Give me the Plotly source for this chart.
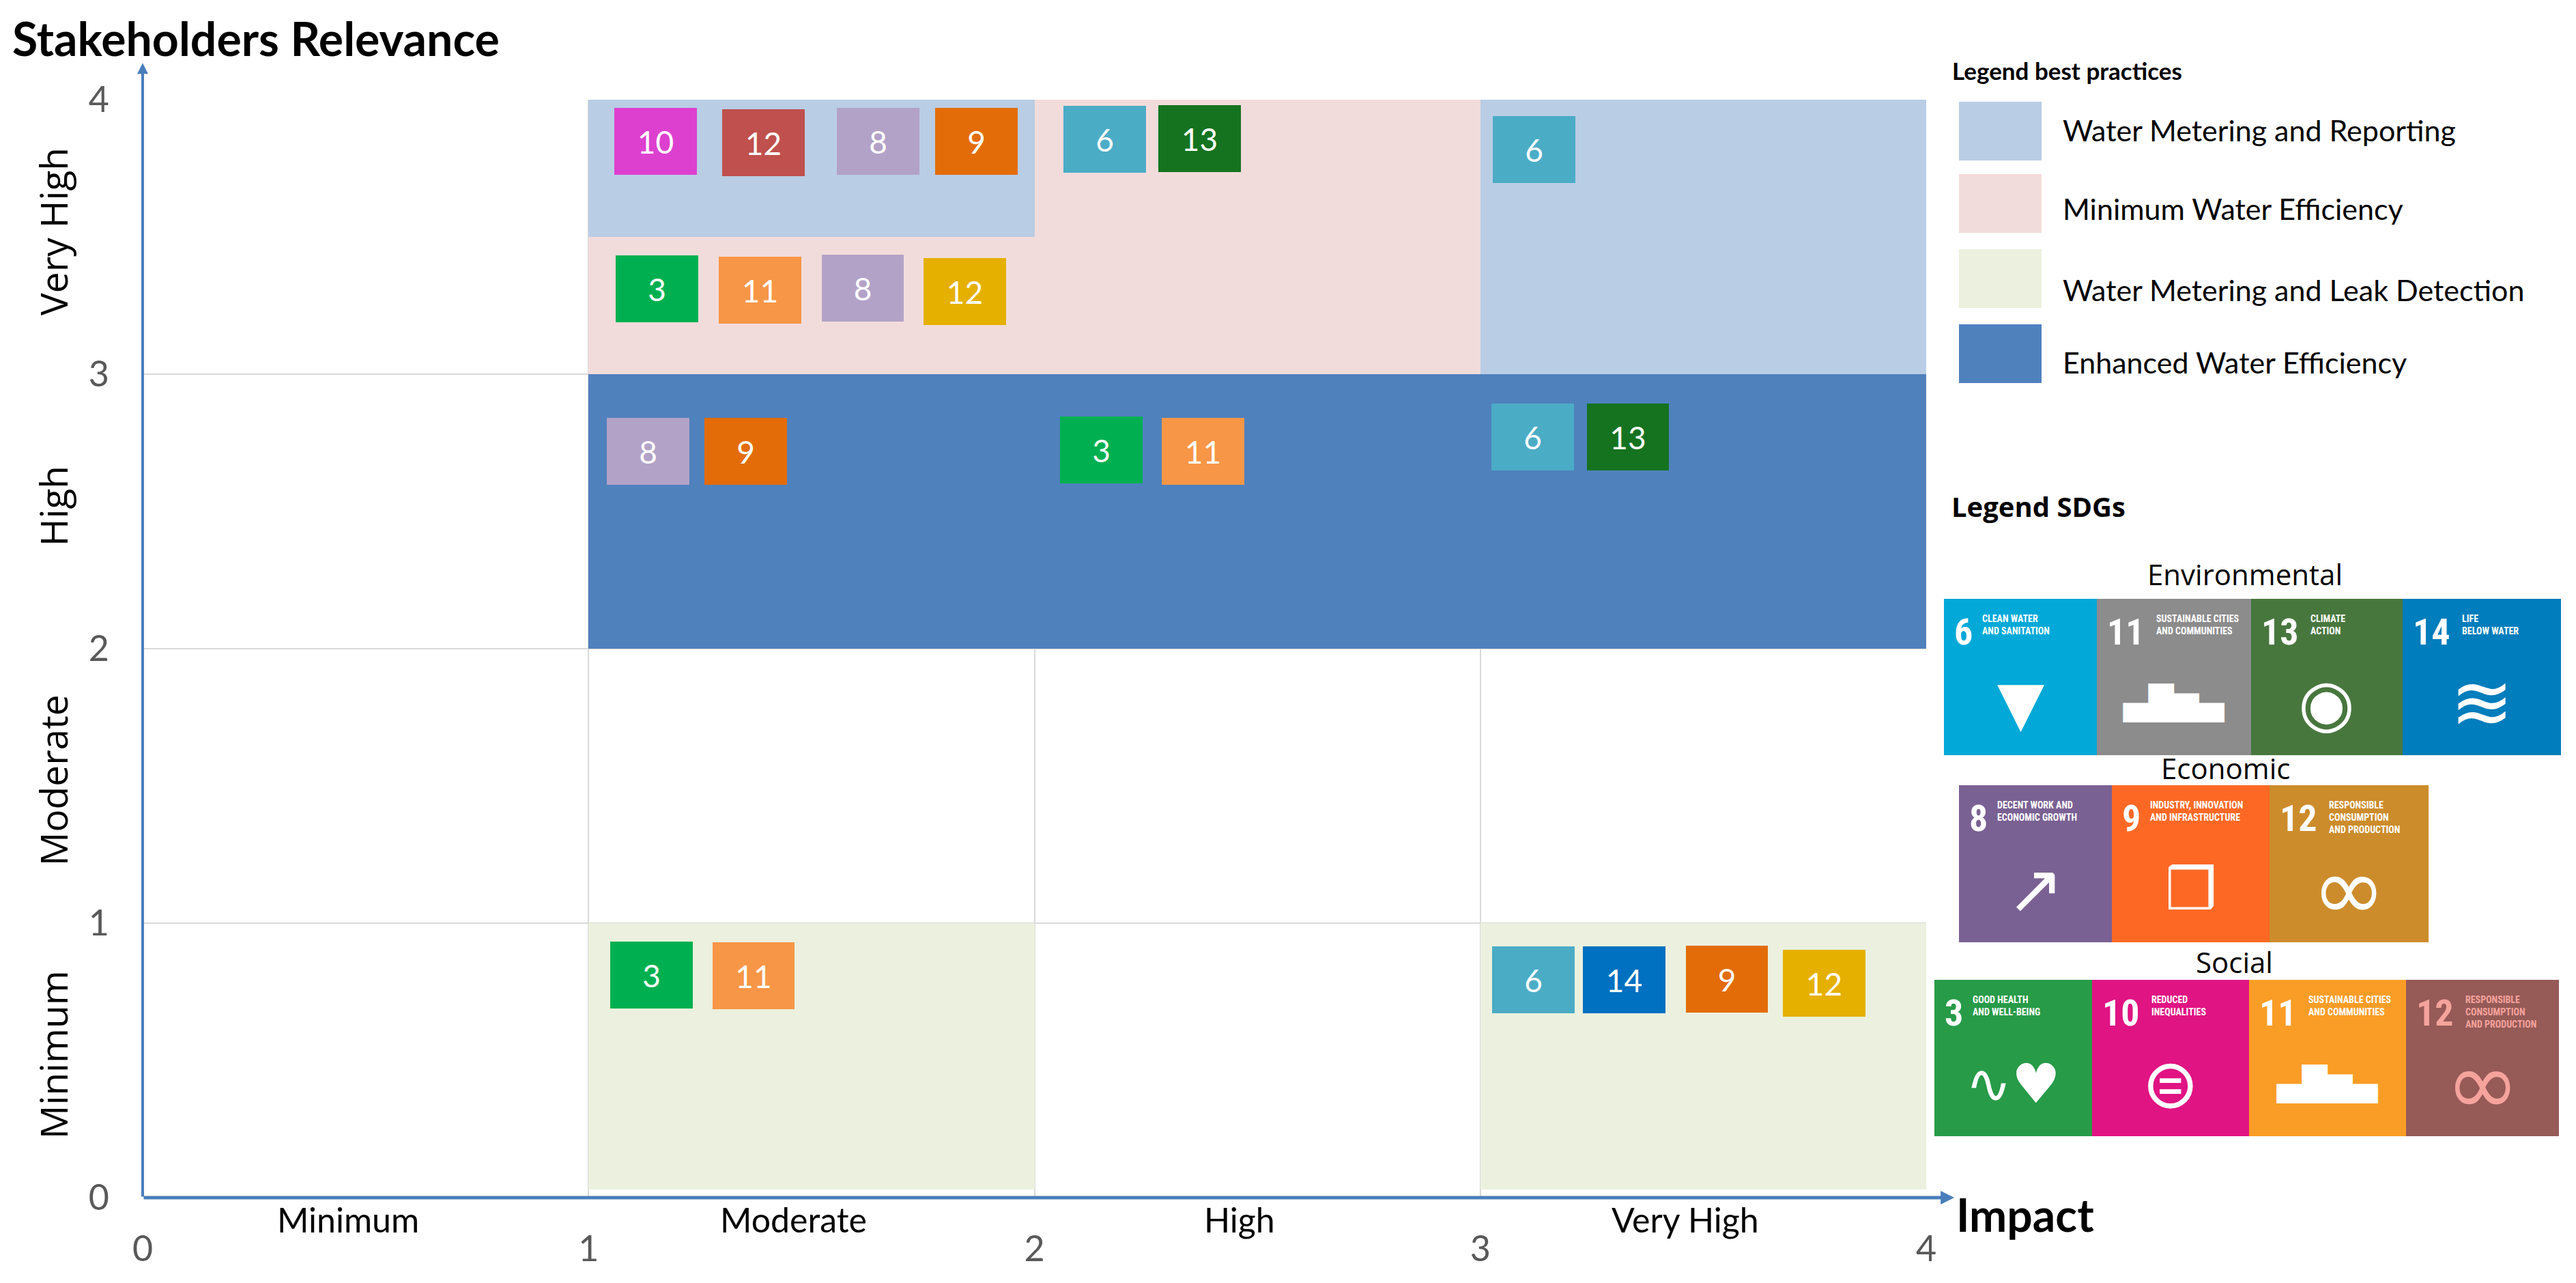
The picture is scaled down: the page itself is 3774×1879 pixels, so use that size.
import plotly.graph_objects as go

# ---------------- data ----------------
impact_levels = ["Minimum", "Moderate", "High", "Very High"]
relevance_levels = ["Minimum", "Moderate", "High", "Very High"]
axis_ticks = [0, 1, 2, 3, 4]

practices = ["Water Metering and Reporting", "Minimum Water Efficiency",
             "Water Metering and Leak Detection", "Enhanced Water Efficiency"]

# areas covered by each best practice (index into practices)
area_practice = [1, 1, 0, 0, 2, 2, 3]
area_impact_from = [1, 2, 1, 3, 1, 3, 1]
area_impact_to = [2, 3, 2, 4, 2, 4, 4]
area_rel_from = [3, 3, 3.5, 3, 0.03, 0.03, 2]
area_rel_to = [3.5, 4, 4, 4, 1, 1, 3]

# SDG boxes placed in the matrix
sdg_number = [10, 12, 8, 9, 6, 13, 6,
              3, 11, 8, 12,
              8, 9, 3, 11, 6, 13,
              3, 11, 6, 14, 9, 12]
sdg_pillar = ["Social", "Social", "Economic", "Economic", "Environmental", "Environmental", "Environmental",
              "Social", "Social", "Economic", "Economic",
              "Economic", "Economic", "Social", "Social", "Environmental", "Environmental",
              "Social", "Social", "Environmental", "Environmental", "Economic", "Economic"]
sdg_impact = [1.150, 1.392, 1.650, 1.870, 2.158, 2.371, 3.121,
              1.153, 1.384, 1.615, 1.844,
              1.133, 1.352, 2.150, 2.378, 3.118, 3.331,
              1.141, 1.370, 3.119, 3.323, 3.553, 3.771]
sdg_relevance = [3.848, 3.843, 3.848, 3.848, 3.856, 3.858, 3.818,
                 3.311, 3.306, 3.313, 3.301,
                 2.719, 2.719, 2.724, 2.719, 2.771, 2.771,
                 0.811, 0.809, 0.794, 0.794, 0.796, 0.781]

# SDG legend content
legend_groups = ["Environmental", "Economic", "Social"]
legend_env = [6, 11, 13, 14]
legend_eco = [8, 9, 12]
legend_soc = [3, 10, 11, 12]
sdg_titles = {
    3: "GOOD HEALTH<br>AND WELL-BEING",
    6: "CLEAN WATER<br>AND SANITATION",
    8: "DECENT WORK AND<br>ECONOMIC GROWTH",
    9: "INDUSTRY, INNOVATION<br>AND INFRASTRUCTURE",
    10: "REDUCED<br>INEQUALITIES",
    11: "SUSTAINABLE CITIES<br>AND COMMUNITIES",
    12: "RESPONSIBLE<br>CONSUMPTION<br>AND PRODUCTION",
    13: "CLIMATE<br>ACTION",
    14: "LIFE<br>BELOW WATER",
}

# ---------------- styles ----------------
practice_colors = ["#b9cde5", "#f2dcdb", "#ebf1de", "#4f81bd"]
box_colors = {
    (3, "Social"): "#00b050", (10, "Social"): "#dd40cf", (11, "Social"): "#f79646",
    (12, "Social"): "#c0504d", (8, "Economic"): "#b3a2c7", (9, "Economic"): "#e36c09",
    (12, "Economic"): "#e5b000", (6, "Environmental"): "#4bacc6",
    (13, "Environmental"): "#157320", (14, "Environmental"): "#0070c0",
}
tile_colors = {
    ("Environmental", 6): "#02a9d8", ("Environmental", 11): "#8c8c8c",
    ("Environmental", 13): "#48773e", ("Environmental", 14): "#007dbc",
    ("Economic", 8): "#7a6193", ("Economic", 9): "#fd6925", ("Economic", 12): "#cc8c2b",
    ("Social", 3): "#279b48", ("Social", 10): "#e01483", ("Social", 11): "#fa9d26",
    ("Social", 12): "#965a57",
}
tile_icons = {6: "▼", 11: "▄█▆▄", 13: "◉", 14: "≋", 8: "↗", 9: "❒", 12: "∞",
              3: "∿♥", 10: "⊜"}
icon_sizes = {6: 90, 11: 48, 13: 95, 14: 110, 8: 100, 9: 85, 12: 130, 3: 80, 10: 100}
AXIS_BLUE = "#4a7ebb"
BOX_W, BOX_H = 0.185, 0.245
MAIN = "Lato"
COND = "Liberation Sans Narrow, Roboto Condensed, Noto Sans Condensed, Roboto"

W, H = 3774, 1879
PL, PR, PT, PB = 209, 2822, 146, 1754


def xp(px):
    return (px - PL) / (PR - PL)


def yp(py):
    return (PB - py) / (PB - PT)


fig = go.Figure()

# best practice areas
for k, name in enumerate(practices):
    idx = [i for i, p in enumerate(area_practice) if p == k]
    fig.add_trace(go.Bar(
        x=[(area_impact_from[i] + area_impact_to[i]) / 2 for i in idx],
        y=[area_rel_to[i] - area_rel_from[i] for i in idx],
        base=[area_rel_from[i] for i in idx],
        width=[area_impact_to[i] - area_impact_from[i] for i in idx],
        marker=dict(color=practice_colors[k], line=dict(width=0)),
        name=name, showlegend=False, hoverinfo="name",
    ))

# SDG boxes
fig.add_trace(go.Bar(
    x=sdg_impact,
    y=[BOX_H] * len(sdg_number),
    base=[r - BOX_H / 2 for r in sdg_relevance],
    width=BOX_W,
    marker=dict(color=[box_colors[(n, p)] for n, p in zip(sdg_number, sdg_pillar)],
                line=dict(width=0)),
    text=[str(n) for n in sdg_number],
    textposition="inside", insidetextanchor="middle", textangle=0,
    textfont=dict(family=MAIN, size=46, color="white"),
    showlegend=False, hoverinfo="text",
))

ann = []
# axis arrows
ann.append(dict(x=4.063, y=0, ax=0, ay=0, xref="x", yref="y", axref="x", ayref="y",
                text="", showarrow=True, arrowhead=2, arrowsize=0.8, arrowwidth=5,
                arrowcolor=AXIS_BLUE, standoff=0, startstandoff=0))
ann.append(dict(x=0, y=4.134, ax=0, ay=0, xref="x", yref="y", axref="x", ayref="y",
                text="", showarrow=True, arrowhead=2, arrowsize=0.8, arrowwidth=4,
                arrowcolor=AXIS_BLUE, standoff=0, startstandoff=0))

# titles
ann.append(dict(x=xp(16), y=yp(55), xref="paper", yref="paper", text="Stakeholders Relevance",
                showarrow=False, xanchor="left", yanchor="middle",
                font=dict(family=MAIN, size=68, color="black", weight="bold")))
ann.append(dict(x=xp(2864), y=yp(1778), xref="paper", yref="paper", text="Impact",
                showarrow=False, xanchor="left", yanchor="middle",
                font=dict(family=MAIN, size=66, color="black", weight="bold")))

# category labels
for i, lab in enumerate(impact_levels):
    ann.append(dict(x=i + 0.46, y=yp(1786), xref="x", yref="paper", text=lab,
                    showarrow=False, xanchor="center", yanchor="middle",
                    font=dict(family=MAIN, size=50, color="black")))
for i, lab in enumerate(relevance_levels):
    ann.append(dict(x=xp(78), y=i + 0.52, xref="paper", yref="y", text=lab, textangle=-90,
                    showarrow=False, xanchor="center", yanchor="middle",
                    font=dict(family="Open Sans", size=55, color="black")))

# legend best practices
shapes = []
ann.append(dict(x=xp(2858), y=yp(103), xref="paper", yref="paper", text="Legend best practices",
                showarrow=False, xanchor="left", yanchor="middle",
                font=dict(family=MAIN, size=35, color="black", weight="bold")))
sw_top = [149, 255, 365, 475]
lab_y = [190, 305, 425, 530]
for k, name in enumerate(practices):
    shapes.append(dict(type="rect", xref="paper", yref="paper",
                       x0=xp(2870), x1=xp(2991), y0=yp(sw_top[k] + 86), y1=yp(sw_top[k]),
                       fillcolor=practice_colors[k], line=dict(width=0)))
    ann.append(dict(x=xp(3020), y=yp(lab_y[k]), xref="paper", yref="paper", text=name,
                    showarrow=False, xanchor="left", yanchor="middle",
                    font=dict(family=MAIN, size=43, color="black")))

# legend SDGs
ann.append(dict(x=xp(2857), y=yp(741), xref="paper", yref="paper", text="Legend SDGs",
                showarrow=False, xanchor="left", yanchor="middle",
                font=dict(family="Open Sans", size=40, color="black", weight="bold")))

rows = [
    ("Environmental", legend_env, 3289, 840, 877, 1106, [2848, 3072, 3298, 3520, 3752]),
    ("Economic", legend_eco, 3260, 1124, 1150, 1380, [2870, 3094, 3325, 3558]),
    ("Social", legend_soc, 3274, 1408, 1435, 1664, [2834, 3065, 3295, 3525, 3749]),
]
for gname, nums, hx, hy, top, bot, edges in rows:
    ann.append(dict(x=xp(hx), y=yp(hy), xref="paper", yref="paper", text=gname,
                    showarrow=False, xanchor="center", yanchor="middle",
                    font=dict(family="Open Sans", size=42, color="black")))
    for j, n in enumerate(nums):
        x0, x1 = edges[j], edges[j + 1]
        fg = "#f5a39c" if (gname, n) == ("Social", 12) else "white"
        shapes.append(dict(type="rect", xref="paper", yref="paper",
                           x0=xp(x0), x1=xp(x1), y0=yp(bot), y1=yp(top),
                           fillcolor=tile_colors[(gname, n)], line=dict(width=0)))
        nd = len(str(n))
        ann.append(dict(x=xp(x0 + 14), y=yp(top + 16), xref="paper", yref="paper",
                        text=str(n), showarrow=False, xanchor="left", yanchor="top",
                        borderpad=0,
                        font=dict(family=COND, size=54, color=fg, weight="bold")))
        ann.append(dict(x=xp(x0 + 14 + nd * 31 + 10), y=yp(top + 20), xref="paper", yref="paper",
                        text=sdg_titles[n], showarrow=False, xanchor="left", yanchor="top",
                        align="left", borderpad=0,
                        font=dict(family=COND, size=14, color=fg, weight="bold")))
        ann.append(dict(x=xp((x0 + x1) / 2), y=yp(top + 152), xref="paper", yref="paper",
                        text=tile_icons[n], showarrow=False, xanchor="center", yanchor="middle",
                        font=dict(family="DejaVu Sans", size=icon_sizes[n], color=fg)))

fig.update_layout(
    width=W, height=H,
    margin=dict(l=PL, r=W - PR, t=PT, b=H - PB, pad=0),
    paper_bgcolor="white", plot_bgcolor="white",
    barmode="overlay", bargap=0,
    showlegend=False,
    xaxis=dict(range=[0, 4], tickvals=axis_ticks, showgrid=True, gridcolor="#d9d9d9",
               gridwidth=2, zeroline=False, showline=False, ticks="",
               ticklabelstandoff=40,
               tickfont=dict(family=MAIN, size=52, color="#595959")),
    yaxis=dict(range=[0, 4], tickvals=axis_ticks, showgrid=True, gridcolor="#d9d9d9",
               gridwidth=2, zeroline=False, showline=False, ticks="",
               ticklabelstandoff=48,
               tickfont=dict(family=MAIN, size=52, color="#595959")),
    annotations=ann,
    shapes=shapes,
)

fig.write_html("out.html", config={"displayModeBar": False},
               post_script="document.body.style.margin='0';")
